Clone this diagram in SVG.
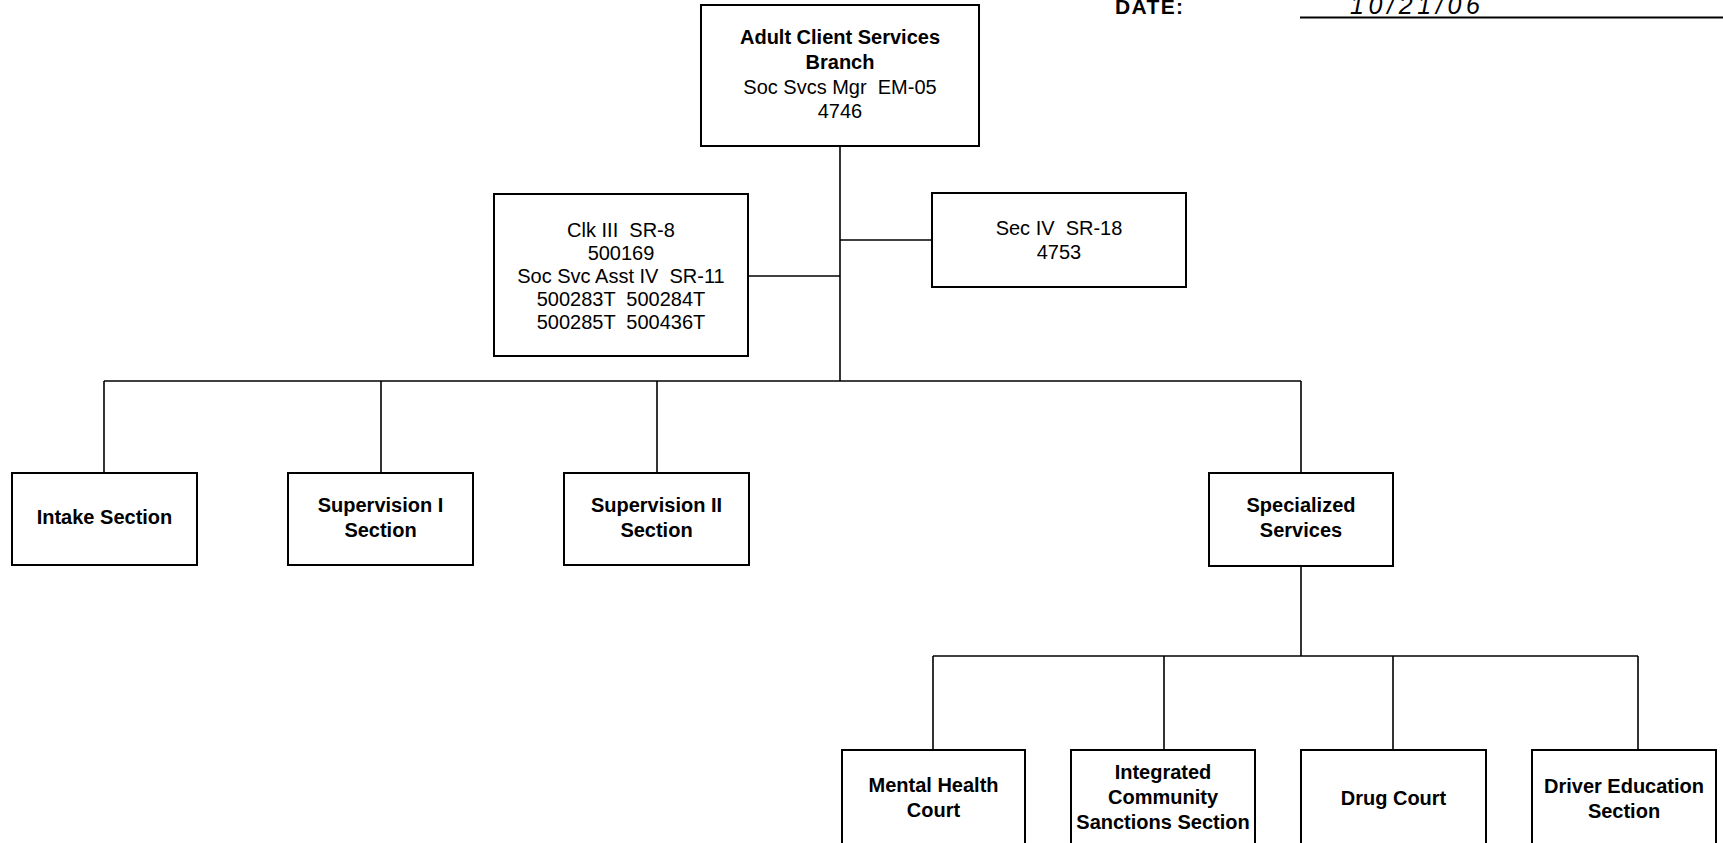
<svg xmlns="http://www.w3.org/2000/svg" width="1723" height="843" viewBox="0 0 1723 843">
<style>
rect.box{fill:#fff;stroke:#000;stroke-width:2}
.c line{stroke:#000;stroke-width:1.6}
text{font-family:"Liberation Sans",Arial,sans-serif;font-size:20px;fill:#000;text-anchor:middle;white-space:pre}
.b{font-weight:bold}
</style>
<rect width="1723" height="843" fill="#fff"/>
<g id="header">
<text class="b" x="1115" y="14" style="text-anchor:start;font-size:21px" textLength="68">DATE:</text>
<line x1="1300" y1="17.5" x2="1723" y2="17.5" stroke="#000" stroke-width="2"/>
<text x="1350" y="14" style="text-anchor:start;font-size:25px;font-style:italic" textLength="130">10/21/06</text>
</g>
<g class="c" id="connectors">
<line x1="840" y1="146" x2="840" y2="381"/>
<line x1="748" y1="276" x2="840" y2="276"/>
<line x1="840" y1="240" x2="932" y2="240"/>
<line x1="104" y1="381" x2="1301" y2="381"/>
<line x1="104" y1="381" x2="104" y2="473"/>
<line x1="381" y1="381" x2="381" y2="473"/>
<line x1="657" y1="381" x2="657" y2="473"/>
<line x1="1301" y1="381" x2="1301" y2="473"/>
<line x1="1301" y1="566" x2="1301" y2="656"/>
<line x1="933" y1="656" x2="1638" y2="656"/>
<line x1="933" y1="656" x2="933" y2="750"/>
<line x1="1164" y1="656" x2="1164" y2="750"/>
<line x1="1393" y1="656" x2="1393" y2="750"/>
<line x1="1638" y1="656" x2="1638" y2="750"/>
</g>
<g id="adult-client-services">
<rect class="box" x="701" y="5" width="278" height="141"/>
<text class="b" x="840" y="44">Adult Client Services</text>
<text class="b" x="840" y="69">Branch</text>
<text x="840" y="94">Soc Svcs Mgr  EM-05</text>
<text x="840" y="118">4746</text>
</g>
<g id="clerical">
<rect class="box" x="494" y="194" width="254" height="162"/>
<text x="621" y="237">Clk III  SR-8</text>
<text x="621" y="260">500169</text>
<text x="621" y="283">Soc Svc Asst IV  SR-11</text>
<text x="621" y="306">500283T  500284T</text>
<text x="621" y="329">500285T  500436T</text>
</g>
<g id="secretary">
<rect class="box" x="932" y="193" width="254" height="94"/>
<text x="1059" y="235">Sec IV  SR-18</text>
<text x="1059" y="259">4753</text>
</g>
<g id="intake">
<rect class="box" x="12" y="473" width="185" height="92"/>
<text class="b" x="104.5" y="524">Intake Section</text>
</g>
<g id="supervision-1">
<rect class="box" x="288" y="473" width="185" height="92"/>
<text class="b" x="380.5" y="512">Supervision I</text>
<text class="b" x="380.5" y="537">Section</text>
</g>
<g id="supervision-2">
<rect class="box" x="564" y="473" width="185" height="92"/>
<text class="b" x="656.5" y="512">Supervision II</text>
<text class="b" x="656.5" y="537">Section</text>
</g>
<g id="specialized">
<rect class="box" x="1209" y="473" width="184" height="93"/>
<text class="b" x="1301" y="512">Specialized</text>
<text class="b" x="1301" y="537">Services</text>
</g>
<g id="mental-health">
<rect class="box" x="842" y="750" width="183" height="100"/>
<text class="b" x="933.5" y="792">Mental Health</text>
<text class="b" x="933.5" y="817">Court</text>
</g>
<g id="integrated">
<rect class="box" x="1071" y="750" width="184" height="100"/>
<text class="b" x="1163" y="779">Integrated</text>
<text class="b" x="1163" y="804">Community</text>
<text class="b" x="1163" y="829">Sanctions Section</text>
</g>
<g id="drug-court">
<rect class="box" x="1301" y="750" width="185" height="100"/>
<text class="b" x="1393.5" y="805">Drug Court</text>
</g>
<g id="driver-education">
<rect class="box" x="1532" y="750" width="184" height="100"/>
<text class="b" x="1624" y="793">Driver Education</text>
<text class="b" x="1624" y="818">Section</text>
</g>
</svg>
